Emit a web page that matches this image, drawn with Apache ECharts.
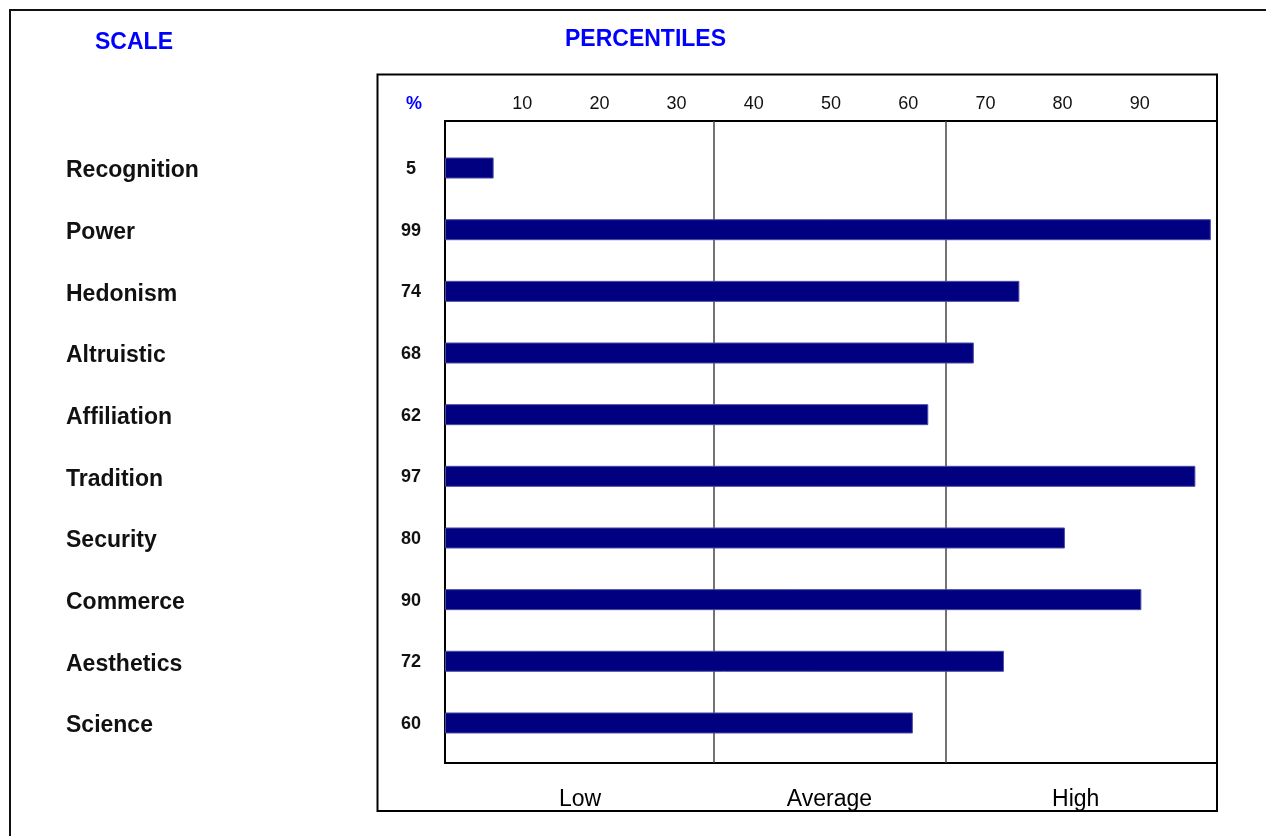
<!DOCTYPE html>
<html>
<head>
<meta charset="utf-8">
<script src="https://cdn.jsdelivr.net/npm/echarts@6/dist/echarts.min.js"></script>
<style>
  html, body { margin: 0; padding: 0; background: #fff; }
  #chart { width: 1266px; height: 836px; }
</style>
</head>
<body>
<div id="chart"></div>
<script>
// ---- data ----
const scales = ['Recognition', 'Power', 'Hedonism', 'Altruistic', 'Affiliation',
                'Tradition', 'Security', 'Commerce', 'Aesthetics', 'Science'];
const scores = ['5', '99', '74', '68', '62', '97', '80', '90', '72', '60'];
// bar lengths as drawn in the picture (percentile axis 0..100)
const barLengths = [6.3, 99.2, 74.4, 68.5, 62.6, 97.2, 80.3, 90.2, 72.4, 60.6];
const tickValues = [10, 20, 30, 40, 50, 60, 70, 80, 90];
const bandBreaks = [34.8, 64.8];
const bandNames = ['Low', 'Average', 'High'];
const bandCenters = [17.5, 49.8, 81.7];

const FONT = 'Liberation Sans, Arial, sans-serif';
const chart = echarts.init(document.getElementById('chart'), null, { renderer: 'canvas' });

// plot-area geometry
const PL = 445, PR = 1217, PT = 121, PB = 763;
const W = 1266, H = 836;
const xPix = v => PL + (PR - PL) * v / 100;

const graphics = [
  { type: 'rect', shape: { x: 10, y: 10, width: 1400, height: 1000 },
    style: { fill: 'none', stroke: '#111', lineWidth: 2 }, z: 0 },
  { type: 'rect', shape: { x: 377.5, y: 74.5, width: PR - 377.5, height: 811 - 74.5 },
    style: { fill: 'none', stroke: '#000', lineWidth: 2 }, z: 0 },
  { type: 'text', x: 134, y: 42.5,
    style: { text: 'SCALE', font: 'bold 23px ' + FONT, fill: '#0000ff', textAlign: 'center', textVerticalAlign: 'middle' } },
  { type: 'text', x: 645.5, y: 39.5,
    style: { text: 'PERCENTILES', font: 'bold 23px ' + FONT, fill: '#0000ff', textAlign: 'center', textVerticalAlign: 'middle' } },
  { type: 'text', x: 414, y: 104.5,
    style: { text: '%', font: 'bold 18px ' + FONT, fill: '#0000ff', textAlign: 'center', textVerticalAlign: 'middle' } }
];
bandNames.forEach((n, i) => {
  graphics.push({ type: 'text', x: xPix(bandCenters[i]), y: 799.5,
    style: { text: n, font: '23px ' + FONT, fill: '#000', textAlign: 'center', textVerticalAlign: 'middle' } });
});

const option = {
  animation: false,
  backgroundColor: '#fff',
  textStyle: { fontFamily: FONT },
  grid: [
    { left: PL, right: W - PR, top: PT, bottom: H - PB, show: true, z: 0,
      borderColor: '#000', borderWidth: 2, backgroundColor: 'transparent', outerBoundsMode: 'none' },
    { left: PL, right: W - PR, top: 137.2, bottom: H - 753.8, outerBoundsMode: 'none' }
  ],
  xAxis: [
    { gridIndex: 0, type: 'value', min: 0, max: 100, interval: 10, position: 'top',
      axisLine: { show: false }, axisTick: { show: false }, splitLine: { show: false },
      axisLabel: { margin: 8, fontSize: 18, color: '#111', fontFamily: FONT,
        formatter: v => tickValues.indexOf(v) >= 0 ? String(v) : '' } },
    { gridIndex: 1, type: 'value', min: 0, max: 100, show: false }
  ],
  yAxis: [
    { gridIndex: 0, type: 'value', min: 0, max: 1, show: false },
    { gridIndex: 1, type: 'category', data: scales, inverse: true,
      axisLine: { show: false }, axisTick: { show: false }, splitLine: { show: false },
      axisLabel: { align: 'left', margin: PL - 66, color: '#111',
        formatter: v => '{c|' + v + '}',
        rich: { c: { fontSize: 23, fontWeight: 'bold', fontFamily: FONT, color: '#111',
          lineHeight: 23, padding: [6, 0, 0, 0] } } } },
    { gridIndex: 1, type: 'category', data: scores, inverse: true, position: 'left',
      axisLine: { show: false }, axisTick: { show: false }, splitLine: { show: false },
      axisLabel: { align: 'center', margin: PL - 411, color: '#111',
        formatter: v => '{s|' + v + '}',
        rich: { s: { fontSize: 18, fontWeight: 'bold', fontFamily: FONT, color: '#111',
          lineHeight: 18, padding: [2, 0, 0, 0] } } } }
  ],
  series: [
    { type: 'line', xAxisIndex: 0, yAxisIndex: 0, data: [], silent: true, z: 1,
      markLine: { silent: true, symbol: ['none', 'none'], label: { show: false }, z: 1,
        lineStyle: { color: '#444', width: 1.5, type: 'solid' },
        emphasis: { disabled: true },
        data: bandBreaks.map(v => ({ xAxis: v })) } },
    { type: 'bar', xAxisIndex: 1, yAxisIndex: 1, data: barLengths, barWidth: 21, z: 5,
      itemStyle: { color: '#000080', borderColor: '#4a4aa6', borderWidth: 1 },
      emphasis: { disabled: true } }
  ],
  graphic: graphics
};
chart.setOption(option);
</script>
</body>
</html>
